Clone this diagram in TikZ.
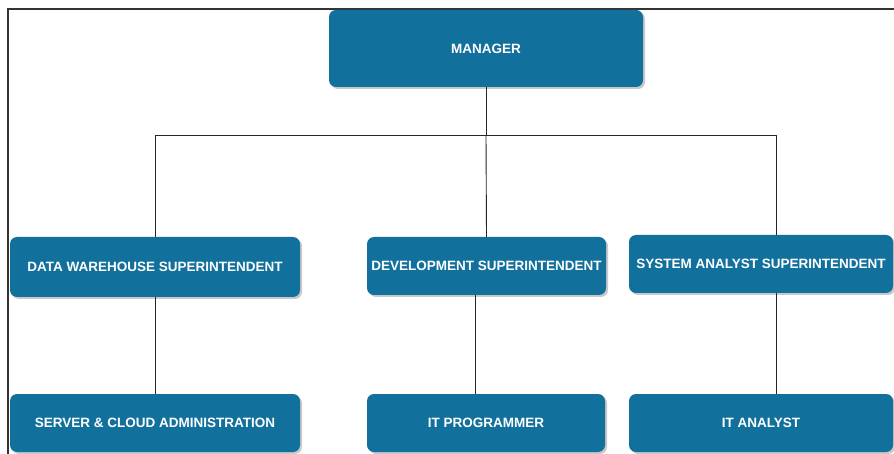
\documentclass[tikz,border=0pt]{standalone}
\usepackage{fontspec}
\setmainfont{Liberation Sans}
\usetikzlibrary{shadows}
\definecolor{boxblue}{RGB}{18,112,156}
\begin{document}
\begin{tikzpicture}[x=1pt,y=-1pt,
  box/.style={fill=boxblue, rounded corners=7pt, text=white, font=\bfseries\fontsize{13.5}{15}\selectfont,
    drop shadow={shadow xshift=2pt, shadow yshift=-2pt, fill=black!35, opacity=0.6}},
  link/.style={draw=black!85, line width=0.9pt}]
\useasboundingbox (0,0) rectangle (894,454);
\fill[white] (0,0) rectangle (894,454);
\draw[line width=2pt, black!80] (8,454) -- (8,9) -- (894,9);
% boxes
\node[box, minimum width=314pt, minimum height=77pt] (mgr) at (486,48.5) {MANAGER};
\node[box, minimum width=290pt, minimum height=60pt] (dw) at (155,267) {DATA WAREHOUSE SUPERINTENDENT};
\node[box, minimum width=239pt, minimum height=58pt] (dev) at (486.5,266) {DEVELOPMENT SUPERINTENDENT};
\node[box, minimum width=264pt, minimum height=58pt] (sa) at (761,264) {SYSTEM ANALYST SUPERINTENDENT};
\node[box, minimum width=290pt, minimum height=58pt] (srv) at (155,423) {SERVER \& CLOUD ADMINISTRATION};
\node[box, minimum width=238pt, minimum height=58pt] (prog) at (486,423) {IT PROGRAMMER};
\node[box, minimum width=264pt, minimum height=58pt] (ana) at (761,423) {IT ANALYST};
% connectors
\coordinate (jl) at (155,135);
\coordinate (jm) at (486,135);
\coordinate (jr) at (776,135);
\coordinate (xp) at (475,0);
\draw[link] (mgr.south) -- (jm);
\draw[link] (jl) -- (jr);
\draw[link] (jl) -- (dw.north);
\draw[link] (jm) -- (dev.north);
\draw[link] (jr) -- (sa.north -| jr);
\draw[link] (dw.south) -- (srv.north);
\draw[link] (dev.south -| xp) -- (prog.north -| xp);
\draw[link] (sa.south -| jr) -- (ana.north -| jr);
\end{tikzpicture}
\end{document}
